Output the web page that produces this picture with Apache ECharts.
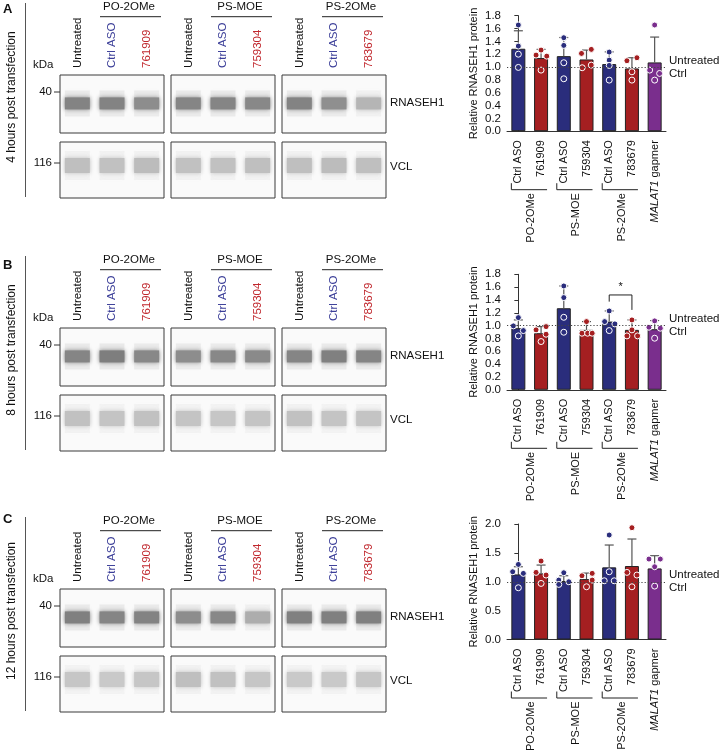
<!DOCTYPE html>
<html>
<head>
<meta charset="utf-8">
<script src="https://cdn.jsdelivr.net/npm/echarts@6.0.0/dist/echarts.min.js"></script>
<style>
  html, body { margin: 0; padding: 0; background: #fff; }
  #main { width: 719px; height: 755px; }
</style>
</head>
<body>
<div id="main"></div>
<script>
// ---- data ----
const PANEL_LETTERS = ['A', 'B', 'C'];
const TIME_LABELS = ['4 hours post transfection', '8 hours post transfection', '12 hours post transfection'];
const GROUP_NAMES = ['PO-2OMe', 'PS-MOE', 'PS-2OMe'];
const LANE_LABELS = [
  ['Untreated', 'Ctrl ASO', '761909'],
  ['Untreated', 'Ctrl ASO', '759304'],
  ['Untreated', 'Ctrl ASO', '783679']
];
const ROW_LABELS = ['RNASEH1', 'VCL'];
const MARKERS_KDA = ['40', '116'];

// band signal per lane (0 = blank, 1 = black), 9 lanes per blot
const RNASEH1_A = [0.47, 0.47, 0.43, 0.46, 0.46, 0.45, 0.47, 0.42, 0.27];
const VCL_A     = [0.23, 0.22, 0.24, 0.22, 0.22, 0.23, 0.23, 0.24, 0.23];
const RNASEH1_B = [0.46, 0.49, 0.45, 0.43, 0.45, 0.44, 0.46, 0.48, 0.46];
const VCL_B     = [0.22, 0.21, 0.22, 0.21, 0.20, 0.21, 0.22, 0.21, 0.21];
const RNASEH1_C = [0.48, 0.46, 0.47, 0.43, 0.45, 0.30, 0.48, 0.48, 0.48];
const VCL_C     = [0.20, 0.19, 0.20, 0.23, 0.22, 0.20, 0.19, 0.19, 0.20];

const BAR_CATEGORIES = ['Ctrl ASO', '761909', 'Ctrl ASO', '759304', 'Ctrl ASO', '783679', 'MALAT1 gapmer'];
const BAR_GROUPS = ['PO-2OMe', 'PS-MOE', 'PS-2OMe'];
const Y_MAX = [1.8, 1.8, 2.0];
const Y_STEP = [0.2, 0.2, 0.5];

const MEAN_A = [1.285, 1.14, 1.17, 1.118, 1.046, 0.978, 1.072];
const SD_A   = [0.28, 0.135, 0.29, 0.146, 0.19, 0.167, 0.395];
const POINTS_A = [
  [1.655, 1.327, 1.20, 0.994], [1.264, 1.186, 1.17, 0.952], [1.457, 1.337, 1.067, 0.817],
  [1.275, 1.212, 1.03, 0.989], [1.233, 1.108, 1.025, 0.796], [1.145, 1.098, 0.926, 0.796],
  [1.655, 0.952, 0.90, 0.796]
];
const JITTER_A = [
  [0, 0, 0, 0], [0, -0.22, 0.25, 0], [0, 0, 0, 0],
  [0.21, -0.22, 0.21, -0.19], [0, 0, 0, 0], [0.22, -0.22, 0, 0],
  [0, -0.22, 0.22, 0]
];

const MEAN_B = [0.96, 0.882, 1.271, 0.934, 1.063, 0.934, 0.944];
const SD_B   = [0.129, 0.103, 0.347, 0.129, 0.166, 0.155, 0.135];
const POINTS_B = [
  [1.125, 0.996, 0.923, 0.84], [0.985, 0.934, 0.866, 0.752], [1.618, 1.437, 1.13, 0.897],
  [1.063, 0.882, 0.882, 0.882], [1.229, 1.063, 1.027, 0.923], [1.089, 0.934, 0.84, 0.84],
  [1.074, 0.975, 0.96, 0.804]
];
const JITTER_B = [
  [0, -0.22, 0.22, 0], [0.22, -0.22, 0.22, 0], [0, 0, 0, 0],
  [0, -0.2, 0.05, 0.25], [0, -0.2, 0.25, 0], [0, 0, -0.22, 0.25],
  [0, -0.25, 0.25, 0]
];
// significance: [from, to, bracket height, left leg end, right leg end, mark]
const SIG_B = [[4, 5, 1.478, 1.374, 1.245, '*']];

const MEAN_C = [1.127, 1.145, 1.012, 1.046, 1.249, 1.272, 1.231];
const SD_C   = [0.133, 0.144, 0.092, 0.104, 0.387, 0.468, 0.22];
const POINTS_C = [
  [1.30, 1.173, 1.145, 0.896], [1.358, 1.162, 1.116, 0.971], [1.156, 1.029, 1.0, 0.954],
  [1.145, 1.104, 1.029, 0.913], [1.809, 1.173, 1.017, 1.017], [1.936, 1.162, 1.116, 0.913],
  [1.393, 1.393, 1.26, 0.925]
];
const JITTER_C = [
  [0, -0.25, 0.22, 0], [0, -0.22, 0.22, 0], [0, -0.22, 0.22, -0.22],
  [0.25, -0.2, 0.25, 0], [0, 0, -0.22, 0.22], [0, -0.22, 0.22, 0],
  [-0.25, 0.25, 0, 0]
];

const RNASEH1 = [RNASEH1_A, RNASEH1_B, RNASEH1_C];
const VCL = [VCL_A, VCL_B, VCL_C];
const MEANS = [MEAN_A, MEAN_B, MEAN_C];
const SDS = [SD_A, SD_B, SD_C];
const POINTS = [POINTS_A, POINTS_B, POINTS_C];
const JITTERS = [JITTER_A, JITTER_B, JITTER_C];
const SIGS = [[], SIG_B, []];

// ---- layout / style ----
const FONT = '"Liberation Sans", Arial, Helvetica, sans-serif';
const NAVY = '#2a2d7c', RED = '#a51f21', PURPLE = '#7a2e8d';
const LANE_COLORS = ['#111', '#3b3e98', '#c0272d'];
const BAR_COLORS = [NAVY, RED, NAVY, RED, NAVY, RED, PURPLE];
const AXIS_COLOR = '#333';

const BLOT_OFF = [0, 253, 514];
const LETTER_Y = [9, 265, 519];
const BOX_LEFT = [60, 171, 282], BOX_W = 104;
const ROW_TOP = [75, 142], ROW_H = [58, 56];
const ROW_CENTER = [0.49, 0.42];
const BAND_H = [12, 15];

const CHART_TOP = [15.7, 274.3, 524];
const CHART_H = 115.5;
const CHART_LEFT = 507, CHART_W = 159;

const chart = echarts.init(document.getElementById('main'));

function bandRenderer(hpx) {
  return function (params, api) {
    const c = api.coord([api.value(0), api.value(1)]);
    const w = api.size([1, 0])[0] * 0.72;
    const s = api.value(2);
    const g = Math.round(248 - 250 * s);
    const col = 'rgb(' + g + ',' + g + ',' + g + ')';
    const halo = 'rgba(' + g + ',' + g + ',' + g + ',0.12)';
    return {
      type: 'group',
      children: [
        { type: 'rect',
          shape: { x: c[0] - w / 2, y: c[1] - hpx / 2 - 7, width: w, height: hpx + 14 },
          style: { fill: halo, shadowBlur: 6, shadowColor: halo } },
        { type: 'rect',
          shape: { x: c[0] - w / 2, y: c[1] - hpx / 2, width: w, height: hpx },
          style: { fill: col, shadowBlur: 4, shadowColor: col } }
      ]
    };
  };
}

function errRenderer(params, api) {
  const base = api.coord([api.value(0), api.value(1)]);
  const top = api.coord([api.value(0), api.value(1) + api.value(2)]);
  const st = { stroke: '#555', lineWidth: 1.2 };
  return {
    type: 'group',
    children: [
      { type: 'line', shape: { x1: base[0], y1: base[1], x2: top[0], y2: top[1] }, style: st },
      { type: 'line', shape: { x1: top[0] - 4.5, y1: top[1], x2: top[0] + 4.5, y2: top[1] }, style: st }
    ]
  };
}

function sigRenderer(params, api) {
  const a = api.coord([api.value(0), api.value(2)]);
  const b = api.coord([api.value(1), api.value(2)]);
  const la = api.coord([api.value(0), api.value(3)]);
  const rb = api.coord([api.value(1), api.value(4)]);
  return {
    type: 'group',
    children: [
      { type: 'polyline', shape: { points: [[la[0], la[1]], a, b, [rb[0], rb[1]]] },
        style: { stroke: '#222', lineWidth: 1, fill: null } },
      { type: 'text', x: (a[0] + b[0]) / 2, y: a[1] - 2,
        style: { text: SIGS[1][params.dataIndex][5], font: '11px ' + FONT, fill: '#111',
                 align: 'center', verticalAlign: 'bottom' } }
    ]
  };
}

const grids = [], xAxes = [], yAxes = [], series = [];
const chartAxes = [];

for (let p = 0; p < 3; p++) {
  const rows = [RNASEH1[p], VCL[p]];
  for (let r = 0; r < 2; r++) {
    for (let b = 0; b < 3; b++) {
      const gi = grids.length;
      grids.push({
        left: BOX_LEFT[b], top: BLOT_OFF[p] + ROW_TOP[r], width: BOX_W, height: ROW_H[r],
        show: true, backgroundColor: '#fafafa', borderColor: '#3a3a3a', borderWidth: 1
      });
      const xi = xAxes.length;
      xAxes.push({
        type: 'category', gridIndex: gi, position: 'top',
        data: LANE_LABELS[b].map((t, l) => ({ value: t, textStyle: { color: LANE_COLORS[l] } })),
        axisLine: { show: false }, axisTick: { show: false }, splitLine: { show: false },
        axisLabel: r === 0
          ? { show: true, rotate: 90, margin: 7, fontSize: 11.5, fontFamily: FONT, interval: 0 }
          : { show: false }
      });
      const yi = yAxes.length;
      yAxes.push({ type: 'value', gridIndex: gi, min: 0, max: 1, inverse: true, show: false });
      series.push({
        type: 'custom', xAxisIndex: xi, yAxisIndex: yi, silent: true, clip: true,
        renderItem: bandRenderer(BAND_H[r]),
        data: [0, 1, 2].map(l => [l, ROW_CENTER[r], rows[r][b * 3 + l]])
      });
    }
  }

  // bar chart
  const gi = grids.length;
  grids.push({ left: CHART_LEFT, top: CHART_TOP[p], width: CHART_W, height: CHART_H });
  const xc = xAxes.length;
  xAxes.push({
    type: 'category', gridIndex: gi, data: BAR_CATEGORIES,
    axisLine: { lineStyle: { color: AXIS_COLOR, width: 1 } },
    axisTick: { alignWithLabel: true, length: 5, lineStyle: { color: AXIS_COLOR } },
    axisLabel: {
      rotate: 90, margin: 9, fontSize: 11, color: '#111', fontFamily: FONT, interval: 0,
      formatter: v => v.indexOf('MALAT1') === 0 ? '{i|MALAT1}' + v.slice(6) : v,
      rich: { i: { fontStyle: 'italic', fontSize: 11, color: '#111', fontFamily: FONT } }
    }
  });
  const xv = xAxes.length;
  xAxes.push({ type: 'value', gridIndex: gi, min: -0.5, max: 6.5, show: false });
  const yi = yAxes.length;
  yAxes.push({
    type: 'value', gridIndex: gi, min: 0, max: Y_MAX[p], interval: Y_STEP[p],
    name: 'Relative RNASEH1 protein', nameLocation: 'middle', nameGap: 28,
    nameTextStyle: { fontSize: 11, color: '#111', fontFamily: FONT },
    axisLine: { show: true, lineStyle: { color: AXIS_COLOR } },
    axisTick: { show: true, length: 4, lineStyle: { color: AXIS_COLOR } },
    axisLabel: { fontSize: 11.5, color: '#111', margin: 6, fontFamily: FONT, formatter: v => v.toFixed(1) },
    splitLine: { show: false }
  });
  chartAxes.push({ xc: xc, yi: yi });

  series.push({
    type: 'line', xAxisIndex: xc, yAxisIndex: yi, data: [], z: 1, silent: true,
    markLine: {
      silent: true, symbol: 'none', animation: false,
      lineStyle: { type: [1.2, 2], color: '#444', width: 1 },
      label: { position: 'end', formatter: 'Untreated\nCtrl', fontSize: 11.5, color: '#111',
               lineHeight: 13, distance: 3, fontFamily: FONT },
      data: [{ yAxis: 1 }]
    }
  });
  series.push({
    type: 'bar', xAxisIndex: xc, yAxisIndex: yi, z: 2, barWidth: 14, silent: true,
    itemStyle: { borderColor: '#222', borderWidth: 1 },
    data: MEANS[p].map((v, i) => ({ value: v, itemStyle: { color: BAR_COLORS[i] } }))
  });
  series.push({
    type: 'custom', xAxisIndex: xc, yAxisIndex: yi, z: 3, silent: true,
    renderItem: errRenderer,
    data: MEANS[p].map((v, i) => [i, v, SDS[p][i]])
  });
  const pts = [];
  POINTS[p].forEach((vals, i) => vals.forEach((v, k) => {
    pts.push({ value: [i + JITTERS[p][i][k], v], itemStyle: { color: BAR_COLORS[i] } });
  }));
  series.push({
    type: 'scatter', xAxisIndex: xv, yAxisIndex: yi, z: 4, silent: true,
    symbolSize: 6, itemStyle: { borderColor: '#fff', borderWidth: 1, opacity: 1 },
    data: pts
  });
  if (SIGS[p].length) {
    series.push({
      type: 'custom', xAxisIndex: xc, yAxisIndex: yi, z: 5, silent: true,
      renderItem: sigRenderer, data: SIGS[p].map(s => s.slice(0, 5))
    });
  }
}

chart.setOption({
  animation: false,
  textStyle: { fontFamily: FONT },
  grid: grids, xAxis: xAxes, yAxis: yAxes, series: series
});

// ---- annotations ----
const gfx = [];
function txt(x, y, s, o) {
  o = o || {};
  gfx.push({
    type: 'text', x: x, y: y, rotation: o.rot || 0, silent: true,
    style: { text: s, font: (o.weight || 'normal') + ' ' + (o.size || 11.5) + 'px ' + FONT,
             fill: o.color || '#111', align: o.align || 'left', verticalAlign: o.va || 'middle' }
  });
}
function seg(x1, y1, x2, y2, w, c) {
  gfx.push({ type: 'line', silent: true, shape: { x1: x1, y1: y1, x2: x2, y2: y2 },
             style: { stroke: c || '#222', lineWidth: w || 1 } });
}

for (let p = 0; p < 3; p++) {
  const off = BLOT_OFF[p];
  txt(3, LETTER_Y[p], PANEL_LETTERS[p], { weight: 'bold', size: 13 });
  seg(25.5, off + 3, 25.5, off + 197, 1, '#555');
  txt(12, off + 97, TIME_LABELS[p], { rot: Math.PI / 2, align: 'center', size: 12 });
  txt(33, off + 65, 'kDa');
  const markY = [off + 92, off + 163];
  MARKERS_KDA.forEach((m, r) => {
    txt(52, markY[r], m, { align: 'right' });
    seg(54, markY[r], 60, markY[r], 1, '#333');
  });
  txt(390, off + 103, ROW_LABELS[0]);
  txt(390, off + 167, ROW_LABELS[1]);
  GROUP_NAMES.forEach((g, b) => {
    txt(BOX_LEFT[b] + 69, off + 7, g, { align: 'center' });
    seg(BOX_LEFT[b] + 40, off + 16.7, BOX_LEFT[b] + 101, off + 16.7, 1, '#222');
  });

  // group brackets under the bar chart, placed through the chart's own axes
  const ax = chartAxes[p];
  const y0 = chart.convertToPixel({ yAxisIndex: ax.yi }, 0);
  BAR_GROUPS.forEach((g, k) => {
    const c1 = chart.convertToPixel({ xAxisIndex: ax.xc }, 2 * k);
    const c2 = chart.convertToPixel({ xAxisIndex: ax.xc }, 2 * k + 1);
    seg(c1 - 7, y0 + 52, c1 - 7, y0 + 58.5, 1, '#222');
    seg(c1 - 7, y0 + 58.5, c2 + 6, y0 + 58.5, 1, '#222');
    txt((c1 + c2) / 2 + 1, y0 + 62, g, { rot: Math.PI / 2, align: 'right', size: 11 });
  });
}

chart.setOption({ graphic: gfx });
</script>
</body>
</html>
